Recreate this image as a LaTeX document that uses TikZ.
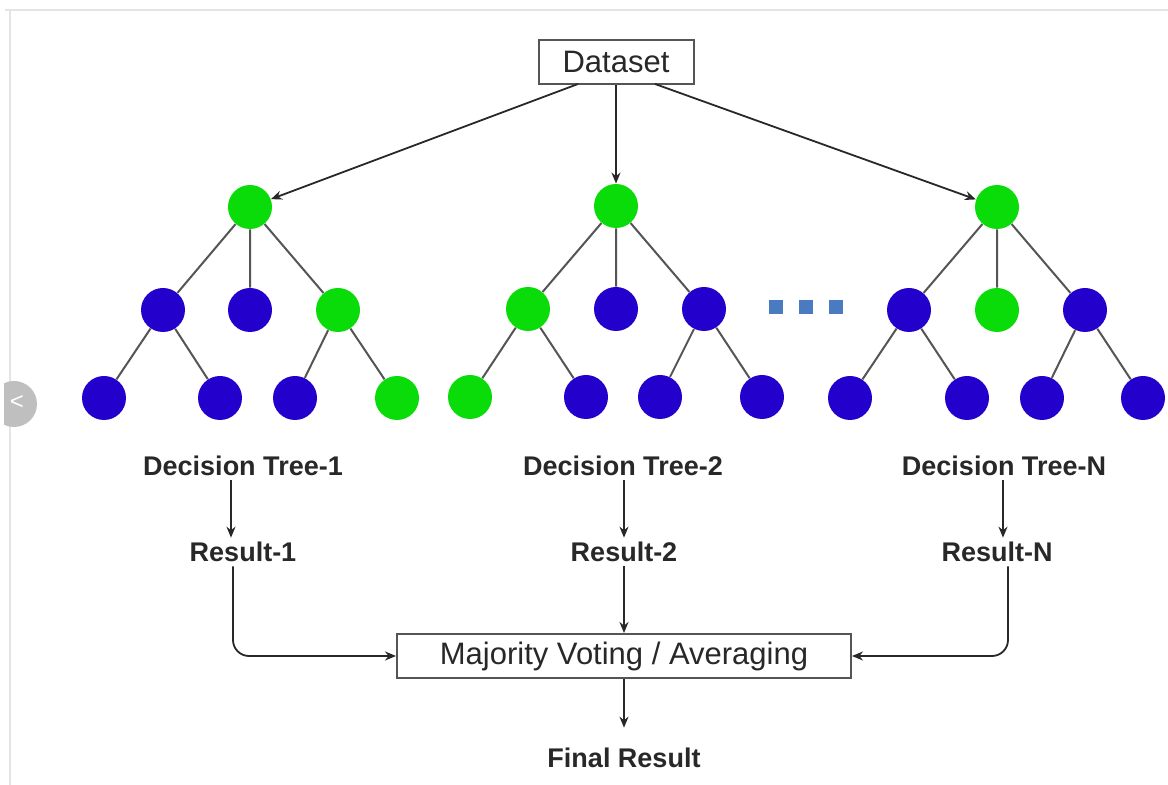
\documentclass[tikz,border=0pt]{standalone}
\usepackage{fontspec}
\setmainfont{Liberation Sans}
\usetikzlibrary{arrows.meta,calc}
\definecolor{tgreen}{RGB}{10,220,10}
\definecolor{tblue}{RGB}{36,0,205}
\definecolor{txt}{RGB}{40,40,40}
\definecolor{edge}{RGB}{85,85,85}
\definecolor{frame}{RGB}{228,228,228}
\definecolor{dotc}{RGB}{74,122,192}
\tikzset{
  gnode/.style={circle,fill=tgreen,draw=none,minimum size=22pt,inner sep=0pt},
  bnode/.style={circle,fill=tblue,draw=none,minimum size=22pt,inner sep=0pt},
  tedge/.style={draw=edge,line width=1pt},
  conn/.style={draw=txt,line width=0.9pt,-{Stealth[length=5.5pt,width=4.5pt]}},
  boxnode/.style={draw=edge,line width=1pt,fill=white,text=txt,font=\fontsize{15.5}{18}\selectfont},
  lbl/.style={text=txt,font=\bfseries\fontsize{13.5}{16}\selectfont,inner sep=2pt},
  dotsq/.style={fill=dotc,draw=none,minimum size=7pt,inner sep=0pt}
}
\begin{document}
\begin{tikzpicture}[x=0.5pt,y=-0.5pt]
\useasboundingbox (0,0) rectangle (1168,785);
\fill[white] (0,0) rectangle (1168,785);
% page frame
\draw[frame,line width=1pt] (5,10) -- (1168,10);
\draw[frame,line width=1pt] (10,10) -- (10,785);
% carousel button
\begin{scope}
\clip (4,0) rectangle (60,785);
\fill[black!25] (14,404) circle (11.5pt);
\end{scope}
\node[text=white,font=\fontsize{12}{12}\selectfont,inner sep=0pt] (btn) at (17,403) {<};

% dataset
\node[boxnode,minimum width=77.5pt,minimum height=22pt] (ds) at (616,62) {Dataset};

% tree 1
\node[gnode] (a0) at (250,207) {};
\node[bnode] (a1) at (163,310) {};
\node[bnode] (a2) at (250,310) {};
\node[gnode] (a3) at (338,310) {};
\node[bnode] (a4) at (104,398) {};
\node[bnode] (a5) at (220,398) {};
\node[bnode] (a6) at (295,398) {};
\node[gnode] (a7) at (397,398) {};
\draw[tedge] (a0)--(a1) (a0)--(a2) (a0)--(a3) (a1)--(a4) (a1)--(a5) (a3)--(a6) (a3)--(a7);

% tree 2
\node[gnode] (b0) at (616,206) {};
\node[gnode] (b1) at (528,309) {};
\node[bnode] (b2) at (616,309) {};
\node[bnode] (b3) at (704,309) {};
\node[gnode] (b4) at (470,397) {};
\node[bnode] (b5) at (586,397) {};
\node[bnode] (b6) at (660,397) {};
\node[bnode] (b7) at (762,397) {};
\draw[tedge] (b0)--(b1) (b0)--(b2) (b0)--(b3) (b1)--(b4) (b1)--(b5) (b3)--(b6) (b3)--(b7);

% dots
\node[dotsq] (d1) at (776,307) {};
\node[dotsq] (d2) at (806,307) {};
\node[dotsq] (d3) at (836,307) {};

% tree N
\node[gnode] (c0) at (997,207) {};
\node[bnode] (c1) at (909,310) {};
\node[gnode] (c2) at (997,310) {};
\node[bnode] (c3) at (1085,310) {};
\node[bnode] (c4) at (850,398) {};
\node[bnode] (c5) at (967,398) {};
\node[bnode] (c6) at (1042,398) {};
\node[bnode] (c7) at (1143,398) {};
\draw[tedge] (c0)--(c1) (c0)--(c2) (c0)--(c3) (c1)--(c4) (c1)--(c5) (c3)--(c6) (c3)--(c7);

% dataset arrows
\coordinate (dsl) at (578,84);
\coordinate (dsr) at (655,84);
\draw[conn] (dsl) -- (a0);
\draw[conn] (ds.south -| b0) -- (b0);
\draw[conn] (dsr) -- (c0);

% labels
\node[lbl] (t1) at (243,466) {Decision Tree-1};
\node[lbl] (t2) at (623,466) {Decision Tree-2};
\node[lbl] (t3) at (1004,466) {Decision Tree-N};
\node[lbl] (r1) at (243,552) {Result-1};
\node[lbl] (r2) at (624,552) {Result-2};
\node[lbl] (r3) at (997,552) {Result-N};

\coordinate (x1) at (231,0);
\coordinate (x2) at (624,0);
\coordinate (x3) at (1003,0);
\coordinate (y1) at (233,0);
\coordinate (y3) at (1008,0);
\draw[conn] (t1.south -| x1) -- (r1.north -| x1);
\draw[conn] (t2.south -| x2) -- (r2.north -| x2);
\draw[conn] (t3.south -| x3) -- (r3.north -| x3);

% majority box
\node[boxnode,minimum width=227pt,minimum height=22pt] (mv) at (624,656) {Majority Voting / Averaging};
\draw[conn,rounded corners=8pt] (r1.south -| y1) |- (mv.west);
\draw[conn] (r2.south -| x2) -- (mv.north -| x2);
\draw[conn,rounded corners=8pt] (r3.south -| y3) |- (mv.east);

% final
\node[lbl] (fr) at (624,758) {Final Result};
\draw[conn,shorten >=8pt] (mv.south -| x2) -- (fr.north -| x2);
\end{tikzpicture}
\end{document}
